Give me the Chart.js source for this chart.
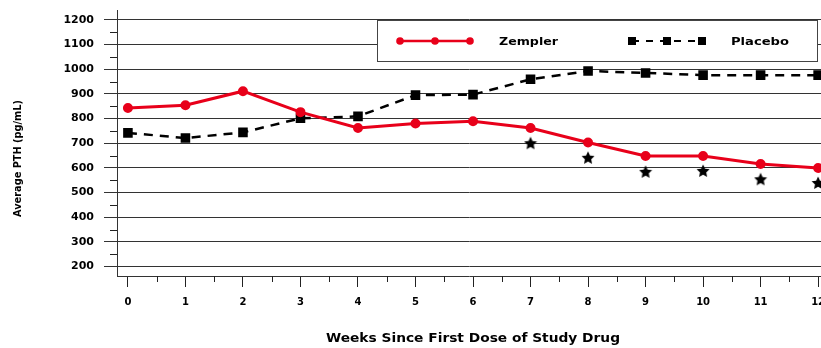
<!DOCTYPE html>
<html>
<head>
<meta charset="utf-8">
<script src="https://cdn.jsdelivr.net/npm/chart.js@4"></script>
<style>
  html, body { margin: 0; padding: 0; background: #fff; }
  #wrap { width: 821px; height: 348px; }
</style>
</head>
<body>
<div id="wrap"><canvas id="pthChart" width="821" height="348"></canvas></div>
<script>
const weeks = [0, 1, 2, 3, 4, 5, 6, 7, 8, 9, 10, 11, 12];
const zemplerPTH = [843, 854, 911, 826, 762, 780, 789, 762, 703, 648, 648, 616, 600];
const placeboPTH = [742, 721, 744, 801, 809, 895, 897, 959, 993, 985, 976, 976, 976];
const starWeeks = [7, 8, 9, 10, 11, 12];
const starPTH = [700, 641, 584, 588, 554, 539];
const yTickValues = [200, 300, 400, 500, 600, 700, 800, 900, 1000, 1100, 1200];
const yMinorValues = [250, 350, 450, 550, 650, 750, 850, 950, 1050, 1150];
const xMinorValues = [0.5, 1.5, 2.5, 3.5, 4.5, 5.5, 6.5, 7.5, 8.5, 9.5, 10.5, 11.5];

const RED = "#e8001a";
const FONT = "'DejaVu Sans', 'Liberation Sans', Arial, sans-serif";

// filled star used for the significance markers
function makeStar() {
  const c = document.createElement("canvas");
  c.width = 14;
  c.height = 14;
  const g = c.getContext("2d");
  g.fillStyle = "#000";
  g.beginPath();
  for (let i = 0; i < 10; i++) {
    const r = i % 2 === 0 ? 6.8 : 3.3;
    const a = -Math.PI / 2 + (i * Math.PI) / 5;
    const px = 7 + r * Math.cos(a);
    const py = 7.4 + r * Math.sin(a);
    if (i === 0) g.moveTo(px, py);
    else g.lineTo(px, py);
  }
  g.closePath();
  g.fill();
  return c;
}

// draw text squeezed/stretched to a target width
function fitText(ctx, text, x, y, width, size) {
  ctx.save();
  ctx.font = "bold " + size + "px " + FONT;
  const w = ctx.measureText(text).width;
  ctx.translate(x, y);
  ctx.scale(width / w, 1);
  ctx.textBaseline = "middle";
  ctx.textAlign = "left";
  ctx.fillStyle = "#000";
  ctx.fillText(text, 0, 0);
  ctx.restore();
}

const decor = {
  id: "decor",
  afterDraw(chart) {
    const ctx = chart.ctx;
    const xs = chart.scales.x;
    const ys = chart.scales.y;
    ctx.save();
    ctx.strokeStyle = "#222";
    ctx.lineWidth = 1;
    // minor ticks
    yMinorValues.forEach((v) => {
      const py = Math.round(ys.getPixelForValue(v)) + 0.5;
      ctx.beginPath();
      ctx.moveTo(ys.right - 7, py);
      ctx.lineTo(ys.right, py);
      ctx.stroke();
    });
    xMinorValues.forEach((v) => {
      const px = Math.round(xs.getPixelForValue(v)) + 0.5;
      ctx.beginPath();
      ctx.moveTo(px, xs.top);
      ctx.lineTo(px, xs.top + 6);
      ctx.stroke();
    });

    // legend box
    ctx.fillStyle = "#fff";
    ctx.fillRect(377, 20, 440, 41);
    ctx.strokeStyle = "#444";
    ctx.strokeRect(377.5, 20.5, 440, 41);

    ctx.strokeStyle = RED;
    ctx.lineWidth = 2.5;
    ctx.beginPath();
    ctx.moveTo(400, 41);
    ctx.lineTo(470, 41);
    ctx.stroke();
    ctx.fillStyle = RED;
    [400, 435, 470].forEach((px) => {
      ctx.beginPath();
      ctx.arc(px, 41, 3.8, 0, Math.PI * 2);
      ctx.fill();
    });

    ctx.strokeStyle = "#000";
    ctx.lineWidth = 2;
    ctx.setLineDash([7, 7]);
    ctx.beginPath();
    ctx.moveTo(632, 41);
    ctx.lineTo(702, 41);
    ctx.stroke();
    ctx.setLineDash([]);
    ctx.fillStyle = "#000";
    [632, 667, 702].forEach((px) => ctx.fillRect(px - 4, 37, 8, 8));

    fitText(ctx, "Zempler", 499, 42, 59, 11);
    fitText(ctx, "Placebo", 731, 42, 58, 11);

    // axis titles
    fitText(ctx, "Weeks Since First Dose of Study Drug", 326, 339, 294, 12);
    ctx.save();
    ctx.translate(18, 217);
    ctx.rotate(-Math.PI / 2);
    fitText(ctx, "Average PTH (pg/mL)", 0, 0, 117, 11);
    ctx.restore();
    ctx.restore();
  },
};

new Chart(document.getElementById("pthChart"), {
  type: "line",
  data: {
    datasets: [
      {
        label: "Zempler",
        data: weeks.map((w, i) => ({ x: w, y: zemplerPTH[i] })),
        borderColor: RED,
        backgroundColor: RED,
        borderWidth: 3,
        pointRadius: 3.5,
        pointHoverRadius: 3.5,
        pointStyle: "circle",
      },
      {
        label: "Placebo",
        data: weeks.map((w, i) => ({ x: w, y: placeboPTH[i] })),
        borderColor: "#000",
        backgroundColor: "#000",
        borderWidth: 2.5,
        borderDash: [9, 7],
        pointRadius: 5,
        pointHoverRadius: 5,
        pointStyle: "rect",
      },
      {
        label: "sig",
        data: starWeeks.map((w, i) => ({ x: w, y: starPTH[i] })),
        showLine: false,
        pointStyle: makeStar(),
        pointRadius: 6,
      },
    ],
  },
  options: {
    responsive: false,
    animation: false,
    clip: false,
    layout: { autoPadding: false, padding: { top: 10, right: 0, left: 0, bottom: 0 } },
    plugins: {
      legend: { display: false },
      tooltip: { enabled: false },
    },
    scales: {
      x: {
        type: "linear",
        min: -0.19,
        max: 12.05,
        afterBuildTicks: (scale) => {
          scale.ticks = weeks.map((w) => ({ value: w }));
        },
        afterFit: (scale) => {
          scale.height = 72;
          scale.paddingLeft = 0;
          scale.paddingRight = 0;
        },
        grid: {
          drawOnChartArea: false,
          tickLength: 11,
          tickColor: "#222",
        },
        border: { display: true, color: "#333", width: 1 },
        ticks: {
          color: "#000",
          padding: 9,
          maxRotation: 0,
          autoSkip: false,
          font: { family: FONT, size: 10, weight: "bold" },
        },
      },
      y: {
        min: 162,
        max: 1240,
        afterBuildTicks: (scale) => {
          scale.ticks = yTickValues.map((v) => ({ value: v }));
        },
        afterFit: (scale) => {
          scale.width = 117;
          scale.paddingTop = 0;
          scale.paddingBottom = 0;
        },
        grid: {
          color: "#333",
          tickColor: "#333",
          tickLength: 13,
          lineWidth: 1,
        },
        border: { display: true, color: "#333", width: 1 },
        ticks: {
          color: "#000",
          padding: 10,
          callback: (v) => String(v),
          font: { family: FONT, size: 11, weight: "bold" },
        },
      },
    },
  },
  plugins: [decor],
});
</script>
</body>
</html>
